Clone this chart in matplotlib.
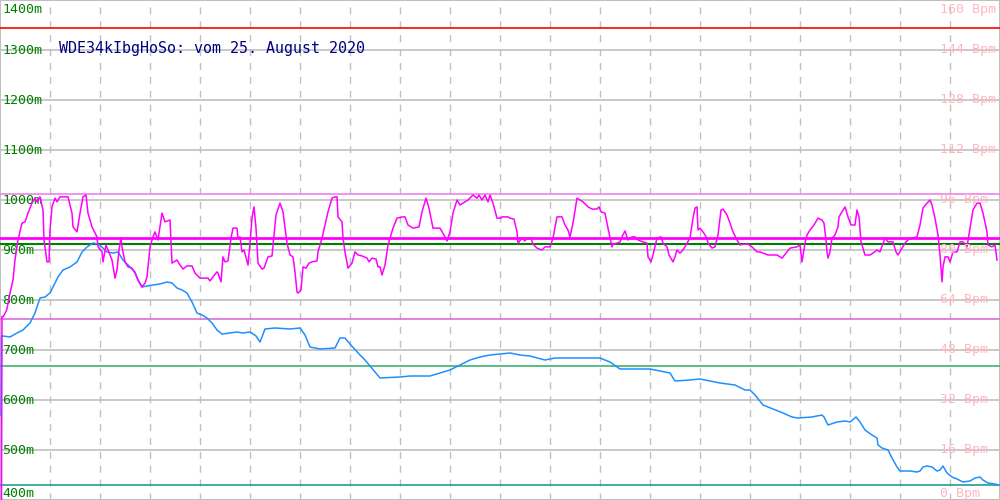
import matplotlib
matplotlib.use("Agg")
import matplotlib.pyplot as plt
import matplotlib.transforms as mtransforms
import numpy as np

# ---------------- data ----------------
title = "WDE34kIbgHoSo: vom 25. August 2020"

alt_ticks = [400, 500, 600, 700, 800, 900, 1000, 1100, 1200, 1300, 1400]
alt_labels = ["400m", "500m", "600m", "700m", "800m", "900m", "1000m",
              "1100m", "1200m", "1300m", "1400m"]
hr_ticks = [0, 16, 32, 48, 64, 80, 96, 112, 128, 144, 160]
hr_labels = ["0 Bpm", "16 Bpm", "32 Bpm", "48 Bpm", "64 Bpm", "80 Bpm",
             "96 Bpm", "112 Bpm", "128 Bpm", "144 Bpm", "160 Bpm"]

# heart rate track (time index, Bpm)
hr_t = [1.5, 2, 3.3, 6.7, 10, 13, 15, 18, 22, 25, 28, 32, 35, 37, 40, 43, 44, 47, 49, 50,
        52, 55, 57, 60, 68, 72, 73, 77, 80, 83, 86, 88, 92, 97, 98, 102, 103, 106, 108,
        112, 115, 117, 119, 121, 122, 125, 128, 132, 135, 138, 142, 145, 147, 150, 153,
        155, 158, 162, 165, 170, 172, 177, 180, 183, 187, 192, 195, 200, 208, 210, 213,
        217, 218, 221, 223, 225, 228, 231, 233, 237, 238, 240, 242, 244, 248, 250, 252,
        254, 256, 258, 262, 264, 268, 272, 274, 276, 280, 283, 287, 290, 293, 295, 297,
        298, 301, 303, 306, 309, 312, 317, 318, 322, 325, 328, 332, 335, 337, 338, 342,
        343, 345, 348, 352, 355, 358, 362, 367, 369, 372, 376, 378, 380, 382, 385, 388,
        393, 397, 403, 405, 408, 413, 419, 422, 426, 429, 433, 440, 445, 447, 450, 453,
        457, 460, 463, 468, 473, 477, 479, 482, 485, 488, 490, 493, 497, 501, 502, 508,
        510, 514, 517, 518, 522, 525, 527, 531, 533, 537, 542, 545, 550, 553, 557, 562,
        565, 568, 570, 573, 577, 580, 583, 588, 592, 597, 599, 601, 605, 608, 612, 613,
        617, 620, 622, 625, 628, 632, 635, 638, 643, 647, 648, 651, 653, 657, 661, 663,
        667, 669, 673, 675, 677, 680, 683, 687, 690, 693, 695, 697, 698, 700, 703, 707,
        708, 712, 715, 718, 721, 723, 727, 730, 733, 737, 740, 744, 748, 752, 757, 760,
        763, 768, 777, 782, 786, 790, 797, 800, 802, 805, 807, 810, 814, 818, 822, 824,
        826, 827, 828, 830, 832, 835, 838, 839, 842, 845, 848, 851, 855, 857, 859, 861,
        865, 870, 873, 877, 880, 885, 888, 893, 896, 898, 902, 905, 908, 912, 917, 920,
        923, 927, 930, 932, 935, 938, 940, 942, 943, 945, 948, 950, 953, 957, 960, 963,
        967, 970, 973, 977, 980, 983, 987, 988, 992, 995, 997]
hr_bpm = [0, 58.7, 58.7, 60.8, 66.2, 70.4, 76.8, 83.2, 88.6, 89.0, 91.8, 95.0, 96.6, 95.4,
          97.0, 92.8, 83.2, 76.2, 76.2, 86.4, 93.8, 96.6, 95.4, 97.0, 97.0, 91.8, 87.4,
          85.8, 91.8, 97.0, 97.6, 91.8, 87.4, 84.2, 81.0, 79.4, 76.2, 81.6, 80.0, 76.8,
          71.0, 73.6, 80.0, 83.8, 81.0, 76.2, 74.6, 74.2, 72.6, 70.4, 68.2, 69.4, 71.4,
          81.0, 84.2, 85.8, 83.2, 91.8, 89.0, 89.6, 75.8, 76.8, 75.2, 73.9, 74.9, 74.9,
          72.6, 71.0, 71.0, 70.1, 71.4, 73.0, 72.6, 69.8, 77.8, 76.2, 76.5, 83.8, 87.0,
          87.0, 83.8, 84.2, 79.4, 80.0, 75.2, 82.2, 90.2, 93.8, 87.0, 75.8, 73.9, 74.2,
          77.8, 78.1, 84.8, 91.2, 95.0, 92.2, 82.2, 78.4, 77.8, 73.0, 66.6, 66.2, 67.2,
          74.6, 74.2, 75.8, 76.2, 76.5, 79.4, 83.8, 88.0, 92.2, 96.6, 97.0, 97.0, 90.6,
          89.0, 83.8, 79.4, 74.2, 75.8, 79.4, 78.4, 78.1, 77.4, 76.2, 77.4, 77.1, 74.6,
          74.6, 72.0, 75.2, 81.6, 87.0, 90.2, 90.6, 90.6, 88.0, 87.0, 87.4, 92.2, 96.6,
          93.4, 87.0, 87.0, 84.2, 82.9, 85.8, 91.8, 96.0, 94.4, 95.0, 96.0, 97.6, 96.6,
          97.6, 96.0, 97.6, 95.4, 97.6, 95.0, 90.2, 90.2, 90.6, 90.6, 90.2, 89.9, 85.8,
          82.2, 83.8, 82.9, 83.8, 83.8, 81.9, 80.6, 80.0, 81.0, 81.0, 83.8, 90.6, 90.6,
          88.0, 86.4, 84.2, 88.6, 96.6, 96.0, 95.4, 93.8, 93.1, 93.1, 93.8, 92.2, 91.8,
          87.0, 81.0, 81.9, 82.2, 82.6, 84.2, 86.1, 83.2, 84.2, 84.2, 83.2, 82.6, 82.2,
          77.8, 76.2, 78.4, 83.8, 84.2, 82.2, 81.0, 78.4, 76.2, 77.8, 80.0, 79.0, 80.0,
          82.2, 83.8, 90.2, 93.4, 93.8, 86.4, 87.0, 85.8, 83.8, 82.2, 80.6, 81.0, 84.8,
          92.8, 93.1, 91.2, 88.6, 85.8, 83.2, 81.6, 81.9, 81.9, 81.0, 79.4, 79.4, 79.0,
          78.4, 78.4, 77.4, 79.0, 80.6, 81.0, 81.6, 76.2, 82.2, 84.8, 86.4, 88.0, 90.2,
          89.6, 88.6, 83.2, 79.4, 77.4, 79.4, 83.8, 84.8, 87.4, 90.6, 92.2, 93.8, 90.6,
          88.0, 88.0, 92.8, 90.6, 82.6, 78.4, 78.4, 79.0, 80.0, 79.4, 83.8, 82.6, 82.6,
          79.4, 78.4, 80.6, 82.2, 83.2, 83.8, 84.2, 88.0, 93.4, 95.0, 96.0, 94.4, 90.2,
          84.8, 78.4, 69.8, 74.6, 77.8, 77.8, 76.2, 79.4, 79.4, 82.6, 82.6, 81.0, 87.0,
          92.8, 95.0, 95.0, 91.8, 85.8, 81.6, 81.0, 81.6, 76.8]

# altitude track (time index, metres)
alt_t = [1, 1.5, 3, 10, 17, 23, 30, 35, 40, 45, 50, 53, 58, 63, 70, 77, 82, 87, 93, 98,
         103, 107, 113, 118, 123, 130, 135, 138, 142, 147, 153, 160, 167, 172, 177, 182,
         187, 192, 197, 202, 207, 212, 217, 222, 230, 237, 243, 250, 256, 260, 265, 275,
         290, 300, 305, 310, 320, 335, 340, 345, 350, 360, 365, 375, 380, 400, 410, 430,
         440, 450, 460, 470, 480, 490, 510, 520, 530, 545, 555, 570, 600, 610, 620, 650,
         660, 670, 675, 690, 700, 720, 735, 745, 750, 755, 763, 773, 783, 792, 798, 812,
         822, 824, 828, 837, 845, 850, 856, 860, 865, 872, 877, 878, 882, 888, 892, 897,
         900, 910, 917, 920, 923, 927, 932, 937, 940, 943, 947, 952, 957, 963, 970, 975,
         980, 983, 988, 995, 998]
alt_m = [570, 728, 728, 726, 734, 740, 754, 774, 804, 806, 814, 826, 846, 860, 866, 876,
         896, 906, 914, 912, 904, 896, 894, 896, 880, 866, 856, 840, 826, 828, 830, 832,
         836, 834, 824, 820, 814, 796, 774, 770, 764, 754, 740, 732, 734, 736, 734, 736,
         728, 716, 742, 744, 742, 744, 730, 706, 702, 704, 724, 724, 712, 690, 680, 656,
         644, 646, 648, 648, 654, 660, 670, 680, 686, 690, 694, 690, 688, 680, 684, 684,
         684, 676, 662, 662, 658, 654, 638, 640, 642, 634, 630, 620, 620, 610, 590, 582,
         574, 566, 564, 566, 570, 566, 550, 556, 558, 556, 566, 556, 540, 530, 524, 510,
         504, 500, 484, 466, 458, 458, 456, 458, 466, 468, 466, 458, 460, 468, 454, 446,
         442, 436, 438, 444, 446, 440, 434, 432, 430]

# reference lines (metres on the altitude scale)
ref_red = 1344
ref_hr_max = 1012
ref_hr_avg = 924
ref_alt_max = 912
ref_hr_min = 762
ref_alt_avg = 668
ref_alt_min = 430

# ---------------- figure ----------------
fig = plt.figure(figsize=(10, 5), dpi=100)
ax = fig.add_axes([0, 0, 1, 1])
ax.set_xlim(0, 1000)
ax.set_ylim(400, 1400)
ax.set_facecolor("white")

ax.set_xticks(np.arange(50, 1000, 50))
ax.set_yticks(alt_ticks)
ax.tick_params(length=0, labelleft=False, labelbottom=False)
ax.xaxis.grid(True, color="#c0c0c0", linestyle=(0, (5, 5)), linewidth=1)
ax.yaxis.grid(True, color="#c0c0c0", linestyle="-", linewidth=1.2)
for s in ax.spines.values():
    s.set_color("#c0c0c0")
    s.set_linewidth(1.5)

ax2 = ax.twinx()
ax2.set_ylim(0, 160)
ax2.set_yticks([])
for s in ax2.spines.values():
    s.set_visible(False)

# horizontal reference lines
ax.axhline(ref_red, color="#ff0000", lw=1.2, zorder=3)
ax.axhline(ref_hr_max, color="#ee82ee", lw=1.2, zorder=3)
ax.axhline(ref_hr_min, color="#da70d6", lw=1.2, zorder=3)
ax.axhline(ref_alt_avg, color="#3cb371", lw=1.2, zorder=3)
ax.axhline(ref_alt_min, color="#20a090", lw=1.2, zorder=3)
ax.axhline(ref_alt_max, color="#008000", lw=1.5, zorder=3)
ax.axhline(ref_hr_avg, color="#ff00ff", lw=2, zorder=3)

# data lines
ax.plot(alt_t, alt_m, color="#1e90ff", lw=1.1, zorder=5)
ax2.plot(hr_t, hr_bpm, color="#ff00ff", lw=1.1, zorder=4)

# axis labels
mono = "DejaVu Sans Mono"
trl = mtransforms.blended_transform_factory(ax.transAxes, ax.transData)
for v, lab in zip(alt_ticks, alt_labels):
    va = "center"
    dy = 0
    if v == alt_ticks[-1]:
        va, dy = "top", -2
    elif v == alt_ticks[0]:
        va, dy = "bottom", 0
    ax.annotate(lab, (0.002, v), xycoords=trl, xytext=(0, dy), textcoords="offset points",
                ha="left", va=va, color="#008000", fontsize=9.5, family=mono, zorder=6)

trr = mtransforms.blended_transform_factory(ax2.transAxes, ax2.transData)
for v, lab in zip(hr_ticks, hr_labels):
    va = "center"
    dy = 0
    if v == hr_ticks[-1]:
        va, dy = "top", -2
    elif v == hr_ticks[0]:
        va, dy = "bottom", 0
    ax2.annotate(lab, (0.940, v), xycoords=trr, xytext=(0, dy), textcoords="offset points",
                 ha="left", va=va, color="#ffb6c1", fontsize=9.5, family=mono, zorder=6)

ax.annotate(title, (0.059, 1304), xycoords=trl, ha="left", va="center",
            color="#000080", fontsize=10.8, family=mono, zorder=6)

fig.savefig("out.png", dpi=100)
